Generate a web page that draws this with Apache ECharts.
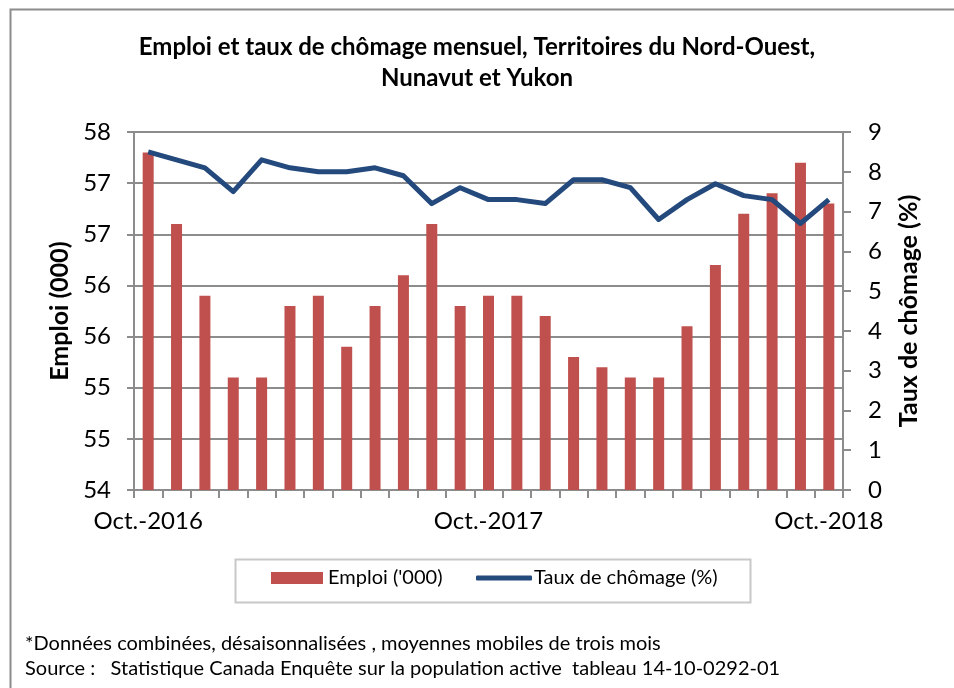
<!DOCTYPE html>
<html lang="fr">
<head>
    <meta charset="UTF-8">
    <title>Emploi et taux de chômage</title>
    <script src="https://cdn.jsdelivr.net/npm/echarts@6/dist/echarts.min.js"></script>
</head>
<style>
    html, body { margin: 0; padding: 0; background: #fff; }
    #chart { width: 954px; height: 688px; }
</style>
<body>
<div id="chart"></div>

<script>
    // mois d'oct. 2016 a oct. 2018
    const months = ['Oct.-2016', 'Nov.-2016', 'Déc.-2016', 'Jan.-2017', 'Fév.-2017', 'Mars-2017',
        'Avr.-2017', 'Mai-2017', 'Juin-2017', 'Juil.-2017', 'Août-2017', 'Sept.-2017',
        'Oct.-2017', 'Nov.-2017', 'Déc.-2017', 'Jan.-2018', 'Fév.-2018', 'Mars-2018',
        'Avr.-2018', 'Mai-2018', 'Juin-2018', 'Juil.-2018', 'Août-2018', 'Sept.-2018', 'Oct.-2018'];
    const shownMonths = ['Oct.-2016', 'Oct.-2017', 'Oct.-2018'];

    const emploi = [57.3, 56.6, 55.9, 55.1, 55.1, 55.8, 55.9, 55.4, 55.8, 56.1, 56.6, 55.8,
        55.9, 55.9, 55.7, 55.3, 55.2, 55.1, 55.1, 55.6, 56.2, 56.7, 56.9, 57.2, 56.8];
    const chomage = [8.5, 8.3, 8.1, 7.5, 8.3, 8.1, 8.0, 8.0, 8.1, 7.9, 7.2, 7.6,
        7.3, 7.3, 7.2, 7.8, 7.8, 7.6, 6.8, 7.3, 7.7, 7.4, 7.3, 6.7, 7.3];

    const notes = [
        '*Données combinées, désaisonnalisées , moyennes mobiles de trois mois',
        'Source :   Statistique Canada Enquête sur la population active  tableau 14-10-0292-01'
    ];

    const font = 'Lato, "Noto Sans", sans-serif';
    const gray = '#8c8c8c';

    let option = {
        backgroundColor: '#fff',
        textStyle: {fontFamily: font},
        title: {
            text: 'Emploi et taux de chômage mensuel, Territoires du Nord-Ouest,\nNunavut et Yukon',
            left: 'center',
            top: 27,
            textStyle: {fontSize: 24, fontWeight: 'bold', color: '#000', lineHeight: 31, fontFamily: font}
        },
        grid: {left: 134, right: 111, top: 132, bottom: 198},
        legend: [{
            data: ["Emploi ('000)"],
            left: 271,
            top: 568,
            padding: 0,
            icon: 'rect',
            itemWidth: 52,
            itemHeight: 12,
            textStyle: {fontSize: 20, color: '#000', fontFamily: font}
        }, {
            data: ['Taux de chômage (%)'],
            left: 476,
            top: 568,
            padding: 0,
            icon: 'roundRect',
            itemWidth: 56,
            itemHeight: 5,
            textStyle: {fontSize: 20, color: '#000', fontFamily: font, padding: [0, 0, 0, -3]}
        }],
        xAxis: {
            type: 'category',
            data: months,
            boundaryGap: true,
            axisLine: {lineStyle: {color: gray, width: 2}},
            axisTick: {show: true, interval: 0, length: 8, lineStyle: {color: gray, width: 2}},
            axisLabel: {
                interval: function (idx, val) { return shownMonths.indexOf(val) >= 0; },
                fontSize: 24,
                color: '#000',
                margin: 19,
                fontFamily: font
            }
        },
        yAxis: [{
            type: 'value',
            min: 54,
            max: 57.5,
            interval: 0.5,
            name: 'Emploi (000)',
            nameLocation: 'middle',
            nameGap: 60,
            nameTextStyle: {fontSize: 25, fontWeight: 'bold', color: '#000', fontFamily: font},
            axisLine: {show: true, lineStyle: {color: gray, width: 2}},
            axisTick: {show: true, length: 7, lineStyle: {color: gray, width: 2}},
            axisLabel: {
                formatter: function (v) { return Math.round(v); },
                fontSize: 24,
                color: '#000',
                margin: 23,
                fontFamily: font
            },
            splitLine: {show: true, lineStyle: {color: gray, width: 2}}
        }, {
            type: 'value',
            min: 0,
            max: 9,
            interval: 1,
            name: 'Taux de chômage (%)',
            nameLocation: 'middle',
            nameGap: 53,
            nameRotate: 90,
            nameTextStyle: {fontSize: 25, fontWeight: 'bold', color: '#000', fontFamily: font},
            axisLine: {show: true, lineStyle: {color: gray, width: 2}},
            axisTick: {show: true, length: 8, lineStyle: {color: gray, width: 2}},
            axisLabel: {fontSize: 24, color: '#000', margin: 25, fontFamily: font},
            splitLine: {show: false}
        }],
        series: [{
            name: "Emploi ('000)",
            type: 'bar',
            data: emploi,
            yAxisIndex: 0,
            barWidth: 11,
            itemStyle: {color: '#c0504d'},
            z: 2
        }, {
            name: 'Taux de chômage (%)',
            type: 'line',
            data: chomage,
            yAxisIndex: 1,
            symbol: 'none',
            lineStyle: {color: '#24497c', width: 5, join: 'round'},
            itemStyle: {color: '#24497c'},
            z: 3
        }],
        graphic: [{
            type: 'rect',
            left: 8, top: 7,
            shape: {width: 1000, height: 1000},
            style: {fill: 'none', stroke: gray, lineWidth: 2},
            silent: true
        }, {
            type: 'rect',
            left: 233, top: 557,
            shape: {width: 515, height: 43},
            style: {fill: 'none', stroke: '#c8c8c8', lineWidth: 2},
            silent: true
        }, {
            type: 'text',
            left: 25, top: 634,
            style: {text: notes[0], font: '20px ' + font, fill: '#000'}
        }, {
            type: 'text',
            left: 25, top: 659,
            style: {text: notes[1], font: '20px ' + font, fill: '#000'}
        }]
    };

    let chart = echarts.init(document.getElementById('chart'));
    chart.setOption(option);
</script>
</body>
</html>
